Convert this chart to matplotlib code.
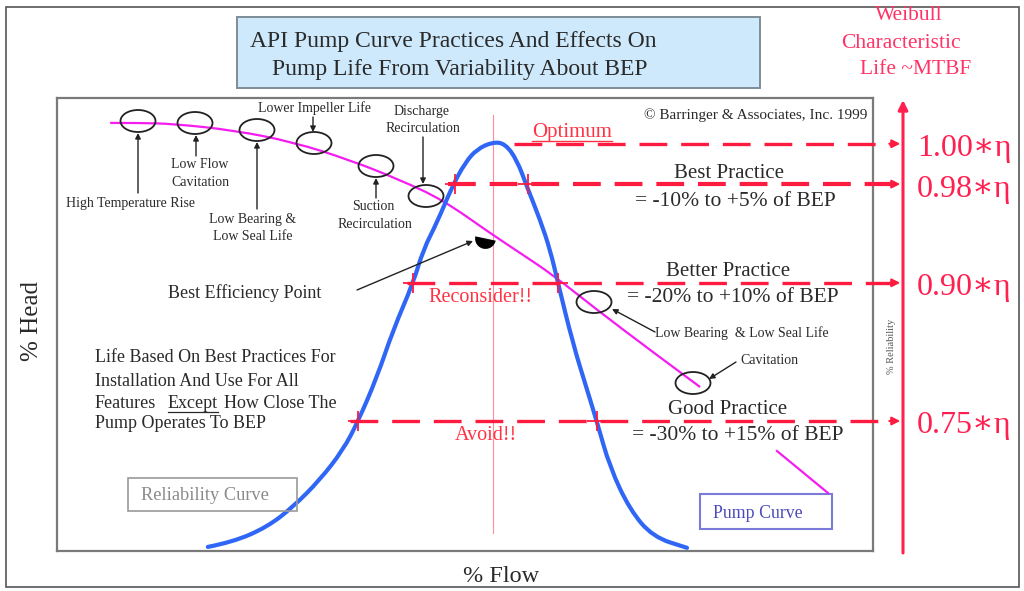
import matplotlib
matplotlib.use('Agg')
import matplotlib.pyplot as plt
from matplotlib.patches import Rectangle, Ellipse, PathPatch
from matplotlib.path import Path
from matplotlib.markers import MarkerStyle
from matplotlib.transforms import Affine2D

plt.rcParams['font.family'] = ['Liberation Serif', 'DejaVu Serif']
plt.rcParams['lines.scale_dashes'] = False

# ── Data (flow in % of BEP, curves in % of plot height) ─────────────────────
rel_flow = [34.6, 40.4, 48.2, 54.1, 60.3, 65.6, 69.0, 73.4, 77.1, 81.7,
            84.0, 87.2, 90.6, 93.6, 96.3, 100.0, 102.8, 105.5, 107.8, 110.8,
            113.1, 114.9, 118.3, 121.6, 123.9, 126.8, 131.4, 136.7, 144.5]
rel_val = [0.9, 2.0, 5.3, 9.7, 15.7, 22.3, 28.5, 38.4, 48.8, 59.2,
           66.5, 72.6, 80.4, 85.7, 88.7, 90.3, 89.9, 86.3, 80.4, 73.1,
           66.5, 59.2, 45.9, 35.5, 28.3, 18.5, 9.1, 3.1, 0.7]

pump_flow = [12.2, 19.0, 26.6, 40.4, 54.1, 67.2, 78.7, 88.5, 99.3, 106.2,
             113.8, 123.9, 136.0, 147.5]
pump_head = [94.5, 94.5, 94.3, 92.9, 90.3, 86.3, 81.9, 77.5, 70.2, 65.8,
             60.9, 53.2, 44.4, 36.2]

level_labels = ['1.00\u2217\u03b7', '0.98\u2217\u03b7', '0.90\u2217\u03b7', '0.75\u2217\u03b7']
level_y = [89.9, 81.0, 59.2, 28.7]
level_start = [104.8, 89.7, 80.3, 67.2]
cross_lo = [None, 91.3, 81.7, 69.0]
cross_hi = [None, 108.0, 114.9, 123.9]

bep_flow, bep_head = 98.2, 69.1

RED = '#ff1a40'
TXT = '#2a2a2a'


def smooth_path(xs, ys):
    """Quadratic Bezier path using the read points as control points."""
    pts = list(zip(xs, ys))
    verts = [pts[0]]
    codes = [Path.MOVETO]
    for i in range(1, len(pts) - 1):
        mid = ((pts[i][0] + pts[i + 1][0]) / 2, (pts[i][1] + pts[i + 1][1]) / 2)
        verts += [pts[i], mid]
        codes += [Path.CURVE3, Path.CURVE3]
    verts.append(pts[-1])
    codes.append(Path.LINETO)
    return Path(verts, codes)


fig = plt.figure(figsize=(10.24, 5.91), dpi=100)
fig.patch.set_facecolor('white')

# inner plot box: pixels x 57..873, y 98..551
ax = fig.add_axes([57 / 1024, 40 / 591, 816 / 1024, 453 / 591], zorder=1)
ax.set_xlim(0, 816 / 4.36)
ax.set_ylim(0, 100)
ax.set_xticks([])
ax.set_yticks([])
for s in ax.spines.values():
    s.set_color('#7a7a7a')
    s.set_linewidth(1.6)

# overlay in pixel units for the layout
ov = fig.add_axes([0, 0, 1, 1], zorder=2)
ov.set_xlim(0, 1024)
ov.set_ylim(591, 0)
ov.axis('off')

# ── Curves ──────────────────────────────────────────────────────────────────
ax.axvline(100, ymin=0.04, ymax=0.962, color='#ff8fa0', lw=0.8, zorder=1)
ax.add_patch(PathPatch(smooth_path(pump_flow, pump_head), fill=False,
                       edgecolor='#f51cf0', lw=1.6, zorder=2))
ax.add_patch(PathPatch(smooth_path(rel_flow, rel_val), fill=False,
                       edgecolor='#2f66f5', lw=3.0, zorder=3,
                       joinstyle='round', capstyle='round'))

hm = MarkerStyle('o', fillstyle='bottom', transform=Affine2D().rotate_deg(-12))
ax.plot([bep_flow], [bep_head], marker=hm, ms=15, mew=0, color='black',
        markerfacecoloralt='none', zorder=4)

x_end, x_tip = 191.4, 193.4
for i, y in enumerate(level_y):
    lw = 3.0 if i == 1 else 2.4
    ax.plot([level_start[i], x_end], [y, y], color=RED, lw=lw,
            dashes=[20, 10], clip_on=False, zorder=5)
    ax.annotate('', xy=(x_tip, y), xytext=(x_end - 0.5, y),
                arrowprops=dict(arrowstyle='-|>', color=RED, lw=1.5,
                                mutation_scale=12, shrinkA=0, shrinkB=0),
                annotation_clip=False, zorder=5)
    if cross_lo[i] is not None:
        ax.plot([cross_lo[i], cross_hi[i]], [y, y], ls='none', marker='+',
                ms=14, mew=1.3, color=RED, zorder=6)
    ax.text(197.2, y - 1.1, level_labels[i], fontsize=23, color='#ff2050',
            ha='left', va='center', clip_on=False)

# right reliability axis
ov.annotate('', xy=(903, 100), xytext=(903, 553),
            arrowprops=dict(arrowstyle='-|>', color='#ff2050', lw=2.2,
                            mutation_scale=14, shrinkA=0, shrinkB=0))
ov.text(892, 346, '% Reliability', fontsize=7.5, color='#555555',
        rotation=90, ha='center', va='center')

# ── Frames and title ────────────────────────────────────────────────────────
ov.add_patch(Rectangle((6, 7), 1013, 580, fill=False, edgecolor='#555555', lw=1.2))
ov.add_patch(Rectangle((237, 17), 523, 71, facecolor='#cde9fb',
                       edgecolor='#7d8c96', lw=1.4))
ov.text(250, 42, 'API Pump Curve Practices And Effects On', fontsize=17,
        color=TXT, ha='left', va='center')
ov.text(272, 70, 'Pump Life From Variability About BEP', fontsize=17,
        color=TXT, ha='left', va='center')

ov.text(909, 16, 'Weibull', fontsize=15.5, color='#ff3366', ha='center', va='center')
ov.text(901, 43, 'Characteristic', fontsize=15.5, color='#ff3366', ha='center', va='center')
ov.text(916, 69, 'Life ~MTBF', fontsize=15.5, color='#ff3366', ha='center', va='center')

ov.text(867, 115, '\u00a9 Barringer & Associates, Inc. 1999', fontsize=11,
        color=TXT, ha='right', va='center')

ov.text(32, 321, '% Head', fontsize=18, color=TXT, rotation=90, ha='center', va='center')
ov.text(501, 577, '% Flow', fontsize=17.5, color=TXT, ha='center', va='center')

# ── Problem-zone ellipses and labels ────────────────────────────────────────
for cx, cy in [(138, 121), (195, 123), (257, 130), (314, 143), (376, 166),
               (426, 196), (594, 302), (693, 383)]:
    ov.add_patch(Ellipse((cx, cy), 35, 22, fill=False, edgecolor='#222222', lw=1.3))


def leader(x1, y1, x2, y2):
    ov.annotate('', xy=(x2, y2), xytext=(x1, y1),
                arrowprops=dict(arrowstyle='-|>', color='#222222', lw=1.0,
                                mutation_scale=8, shrinkA=0, shrinkB=0))


leader(138, 193, 138, 133)
leader(196, 156, 196, 135)
leader(257, 209, 257, 142)
leader(313, 117, 313, 132)
leader(376, 198, 376, 178)
leader(423, 137, 423, 184)
leader(357, 290, 473, 241)
leader(655, 332, 612, 309)
leader(736, 362, 709, 379)

sm = 10
ov.text(130, 204, 'High Temperature Rise', fontsize=sm, color=TXT, ha='center', va='center')
ov.text(200, 165, 'Low Flow', fontsize=sm, color=TXT, ha='center', va='center')
ov.text(200, 182, 'Cavitation', fontsize=sm, color=TXT, ha='center', va='center')
ov.text(253, 220, 'Low Bearing &', fontsize=sm, color=TXT, ha='center', va='center')
ov.text(253, 236, 'Low Seal Life', fontsize=sm, color=TXT, ha='center', va='center')
ov.text(314, 108, 'Lower Impeller Life', fontsize=sm, color=TXT, ha='center', va='center')
ov.text(373, 207, 'Suction', fontsize=sm, color=TXT, ha='center', va='center')
ov.text(375, 224, 'Recirculation', fontsize=sm, color=TXT, ha='center', va='center')
ov.text(422, 112, 'Discharge', fontsize=sm, color=TXT, ha='center', va='center')
ov.text(423, 128, 'Recirculation', fontsize=sm, color=TXT, ha='center', va='center')
ov.text(655, 333, 'Low Bearing  & Low Seal Life', fontsize=10, color=TXT, ha='left', va='center')
ov.text(740, 360, 'Cavitation', fontsize=10, color=TXT, ha='left', va='center')

ov.text(168, 293, 'Best Efficiency Point', fontsize=13, color=TXT, ha='left', va='center')

ov.text(95, 358, 'Life Based On Best Practices For', fontsize=13, color=TXT, ha='left', va='center')
ov.text(95, 381, 'Installation And Use For All', fontsize=13, color=TXT, ha='left', va='center')
ov.text(95, 403, 'Features', fontsize=13, color=TXT, ha='left', va='center')
t_exc = ov.text(168, 403, 'Except', fontsize=13, color=TXT, ha='left', va='center')
ov.text(224, 403, 'How Close The', fontsize=13, color=TXT, ha='left', va='center')
ov.text(95, 424, 'Pump Operates To BEP', fontsize=13, color=TXT, ha='left', va='center')

# practice bands
bg = 15.5
ov.text(729, 173, 'Best Practice', fontsize=15, color=TXT, ha='center', va='center')
ov.text(735, 202, '= -10% to +5% of BEP', fontsize=bg, color=TXT, ha='center', va='center')
ov.text(728, 271, 'Better Practice', fontsize=15, color=TXT, ha='center', va='center')
ov.text(733, 297, '= -20% to +10% of BEP', fontsize=bg, color=TXT, ha='center', va='center')
ov.text(728, 409, 'Good Practice', fontsize=15, color=TXT, ha='center', va='center')
ov.text(738, 435, '= -30% to +15% of BEP', fontsize=bg, color=TXT, ha='center', va='center')

t_opt = ov.text(532, 133, 'Optimum', fontsize=15, color='#ff3344', ha='left', va='center')
ov.text(428, 298, 'Reconsider!!', fontsize=14.5, color='#ff3344', ha='left', va='center')
ov.text(455, 436, 'Avoid!!', fontsize=14.5, color='#ff3344', ha='left', va='center')

# legend-like boxes
ov.add_patch(Rectangle((128, 478), 169, 33, fill=False, edgecolor='#9a9a9a', lw=1.2))
ov.text(205, 496, 'Reliability Curve', fontsize=13.2, color='#8a8a8a', ha='center', va='center')
ov.add_patch(Rectangle((700, 494), 132, 35, fill=False, edgecolor='#7a7ad8', lw=1.5))
ov.text(758, 513, 'Pump Curve', fontsize=12.8, color='#4a4ab8', ha='center', va='center')
ov.plot([777, 828], [451, 493], color='#f51cf0', lw=1.6)

# underlines
fig.canvas.draw()
r = fig.canvas.get_renderer()
inv = ov.transData.inverted()
for t, yline, col, lw in [(t_exc, 412, TXT, 0.9), (t_opt, 141, '#ff3344', 1.0)]:
    bb = t.get_window_extent(r)
    (x0, _), (x1, _) = inv.transform([(bb.x0, bb.y0), (bb.x1, bb.y1)])
    ov.plot([x0, x1], [yline, yline], color=col, lw=lw)

fig.savefig('out.png', dpi=100, facecolor='white')
